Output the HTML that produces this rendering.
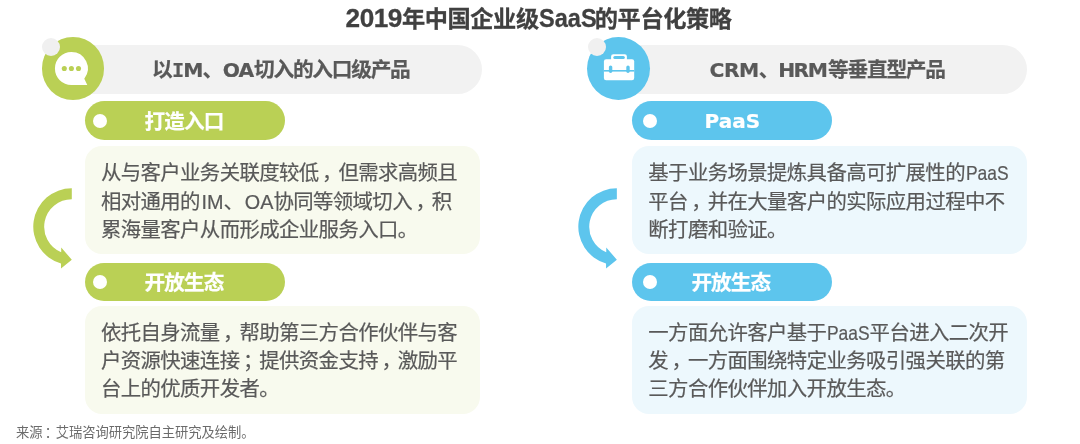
<!DOCTYPE html>
<html lang="zh-CN">
<head>
<meta charset="utf-8">
<title>2019年中国企业级SaaS的平台化策略</title>
<style>
html,body{margin:0;padding:0;background:#fff;}
body{width:1080px;height:444px;position:relative;overflow:hidden;
  font-family:"Liberation Sans","Noto Sans CJK SC",sans-serif;color:#595959;}
#stage{position:absolute;left:0;top:0;width:1080px;height:444px;will-change:transform;}
.abs{position:absolute;}
svg{position:absolute;left:0;top:0;overflow:visible;}
.ln{position:absolute;white-space:nowrap;margin:0;}
.lat{display:inline-block;white-space:nowrap;transform-origin:0 50%;}
.title{left:345.6px;top:1.3px;height:34px;line-height:34px;font-size:23.2px;letter-spacing:-0.42px;-webkit-text-stroke:0.3px #404040;font-weight:bold;color:#404040;}
.title .lat{font-size:24.6px;letter-spacing:0;}
.hpill{background:#f2f2f2;border-radius:25px;height:48.8px;top:45.3px;}
.htext{height:40px;line-height:40px;font-size:20.7px;letter-spacing:-1.25px;-webkit-text-stroke:0.2px #595959;font-weight:bold;color:#595959;}
.htext .lat{font-family:"DejaVu Sans","Liberation Sans",sans-serif;font-size:20.3px;letter-spacing:0;}
.htext .mono{font-family:"DejaVu Sans Mono","Liberation Mono",monospace;}
.big{width:62.8px;height:62.8px;border-radius:50%;top:37.4px;}
.small{width:18.4px;height:18.4px;border-radius:50%;background:#f0f0f0;top:37.5px;}
.pill{width:200.4px;height:38.8px;border-radius:19.4px;}
.dot{width:14.2px;height:14.2px;border-radius:50%;background:#fff;}
.ptext{height:38.8px;line-height:38.8px;font-size:20.6px;letter-spacing:-0.9px;-webkit-text-stroke:0.2px #fff;font-weight:bold;color:#fff;}
.ptext.dj{font-family:"DejaVu Sans","Liberation Sans",sans-serif;font-size:20px;letter-spacing:0;}
.box{width:395.3px;height:108.2px;border-radius:17px;}
.bt{height:28.4px;line-height:28.4px;font-size:20.4px;letter-spacing:-0.6px;color:#595959;-webkit-text-stroke:0.2px #595959;}
.bt .lat{font-size:19.8px;letter-spacing:0;}
.pc{position:relative;left:0.17em;}
.g{background:#bad055;}
.b{background:#5dc5ed;}
.lg{background:#f8faee;}
.lb{background:#edf8fd;}
.src{left:16px;top:422.5px;height:20px;line-height:20px;font-size:13.3px;letter-spacing:-0.05px;color:#6b6b6b;}
</style>
</head>
<body>
<div id="stage">
<h1 class="ln title"><span class="lat" style="font-size:26.2px;letter-spacing:-0.5px;margin-right:0.2px">2019</span>年中国企业级<span class="lat" style="width:55.6px;margin-left:0.6px;font-size:26.2px"><span class="lat" style="transform:scaleX(0.9);font-size:26.2px">SaaS</span></span>的平台化策略</h1>

<!-- ============ left column ============ -->
<div class="abs hpill" style="left:60px;width:421.5px;"></div>
<div class="abs big g" style="left:41.6px;"></div>
<div class="abs small" style="left:41.7px;"></div>
<svg width="1080" height="444" viewBox="0 0 1080 444">
  <path d="M71.4 52.05 A16.45 16.45 0 1 0 71.4 84.95 L87.3 84.95 L84.3 78.7 A16.45 16.45 0 0 0 71.4 52.05 Z" fill="#fff"/>
  <circle cx="64.3" cy="68.45" r="2.55" fill="#bad055"/>
  <circle cx="71.4" cy="68.45" r="2.55" fill="#bad055"/>
  <circle cx="78.5" cy="68.45" r="2.55" fill="#bad055"/>
  <path d="M71.8 188.3 A38.35 38.35 0 0 0 61 263.5 L61 268.4 L71.8 259.7 L61.2 247.5 L61.2 252.2 A27.55 27.55 0 0 1 71.8 199.2 Z" fill="#bad055"/>
</svg>
<div class="ln htext" style="left:152px;top:50.4px;">以<span class="lat mono" style="margin:0 -1px 0 0.5px">I</span><span class="lat" style="margin-right:-0.9px">M</span>、<span class="lat" style="margin:0 0.6px 0 0.9px;letter-spacing:-0.9px">OA</span>切入的入口级产品</div>

<div class="abs pill g" style="left:84.5px;top:101.3px;"></div>
<div class="abs dot" style="left:92.7px;top:113.5px;"></div>
<div class="ln ptext" style="left:144.6px;top:102.6px;">打造入口</div>
<div class="abs box lg" style="left:84.5px;top:146.3px;"></div>
<p class="ln bt" style="left:100.9px;top:159.2px;">从与客户业务关联度较低<span class="pc">，</span>但需求高频且</p>
<p class="ln bt" style="left:100.9px;top:187.6px;">相对通用的<span class="lat" style="margin-left:1.6px">IM</span>、<span class="lat" style="margin-left:1.6px">OA</span>协同等领域切入<span class="pc">，</span>积</p>
<p class="ln bt" style="left:100.9px;top:216.0px;">累海量客户从而形成企业服务入口。</p>

<div class="abs pill g" style="left:84.5px;top:262.5px;"></div>
<div class="abs dot" style="left:92.6px;top:274.7px;"></div>
<div class="ln ptext" style="left:144.6px;top:264.2px;">开放生态</div>
<div class="abs box lg" style="left:84.5px;top:306px;"></div>
<p class="ln bt" style="left:100.9px;top:318.6px;">依托自身流量<span class="pc">，</span>帮助第三方合作伙伴与客</p>
<p class="ln bt" style="left:100.9px;top:347.0px;">户资源快速连接<span class="pc">；</span>提供资金支持<span class="pc">，</span>激励平</p>
<p class="ln bt" style="left:100.9px;top:375.4px;">台上的优质开发者。</p>

<!-- ============ right column ============ -->
<div class="abs hpill" style="left:608px;width:419.4px;"></div>
<div class="abs big b" style="left:587.4px;"></div>
<div class="abs small" style="left:587.7px;"></div>
<svg width="1080" height="444" viewBox="0 0 1080 444">
  <rect x="611.1" y="54.3" width="15.8" height="8" rx="2.2" fill="#fff"/>
  <rect x="613.3" y="55.9" width="11.5" height="3.2" rx="1.5" fill="#5dc5ed"/>
  <rect x="603.9" y="59.3" width="30.3" height="21" rx="2.2" fill="#fff"/>
  <rect x="603.9" y="70" width="30.3" height="1.6" fill="#5dc5ed"/>
  <rect x="608.9" y="65.4" width="3.4" height="7.6" rx="1.7" fill="#5dc5ed"/>
  <rect x="626.3" y="65.4" width="3.4" height="7.6" rx="1.7" fill="#5dc5ed"/>
  <path d="M71.8 188.3 A38.35 38.35 0 0 0 61 263.5 L61 268.4 L71.8 259.7 L61.2 247.5 L61.2 252.2 A27.55 27.55 0 0 1 71.8 199.2 Z" fill="#5dc5ed" transform="translate(545.05 0)"/>
</svg>
<div class="ln htext" style="left:709.5px;top:50.4px;"><span class="lat" style="letter-spacing:-0.5px">CRM</span>、<span class="lat" style="margin:0 1.7px 0 0px;letter-spacing:-1.5px">HRM</span>等垂直型产品</div>

<div class="abs pill b" style="left:631.8px;top:101.3px;"></div>
<div class="abs dot" style="left:643px;top:113.8px;"></div>
<div class="ln ptext dj" style="left:704.6px;top:102.3px;">PaaS</div>
<div class="abs box lb" style="left:631.8px;top:146.3px;"></div>
<p class="ln bt" style="left:648.3px;top:159.2px;">基于业务场景提炼具备高可扩展性的<span class="lat" style="width:42.6px;margin-left:0.6px"><span class="lat" style="transform:scaleX(0.88)">PaaS</span></span></p>
<p class="ln bt" style="left:648.3px;top:187.6px;">平台<span class="pc">，</span>并在大量客户的实际应用过程中不</p>
<p class="ln bt" style="left:648.3px;top:216.0px;">断打磨和验证。</p>

<div class="abs pill b" style="left:631.8px;top:262.5px;"></div>
<div class="abs dot" style="left:643px;top:274.9px;"></div>
<div class="ln ptext" style="left:691.4px;top:264.2px;">开放生态</div>
<div class="abs box lb" style="left:631.8px;top:306px;"></div>
<p class="ln bt" style="left:648.3px;top:318.6px;">一方面允许客户基于<span class="lat" style="width:42.6px;margin-left:0.6px"><span class="lat" style="transform:scaleX(0.88)">PaaS</span></span>平台进入二次开</p>
<p class="ln bt" style="left:648.3px;top:347.0px;">发<span class="pc">，</span>一方面围绕特定业务吸引强关联的第</p>
<p class="ln bt" style="left:648.3px;top:375.4px;">三方合作伙伴加入开放生态。</p>

<div class="ln src">来源<span class="pc">：</span>艾瑞咨询研究院自主研究及绘制。</div>
</div>
</body>
</html>
